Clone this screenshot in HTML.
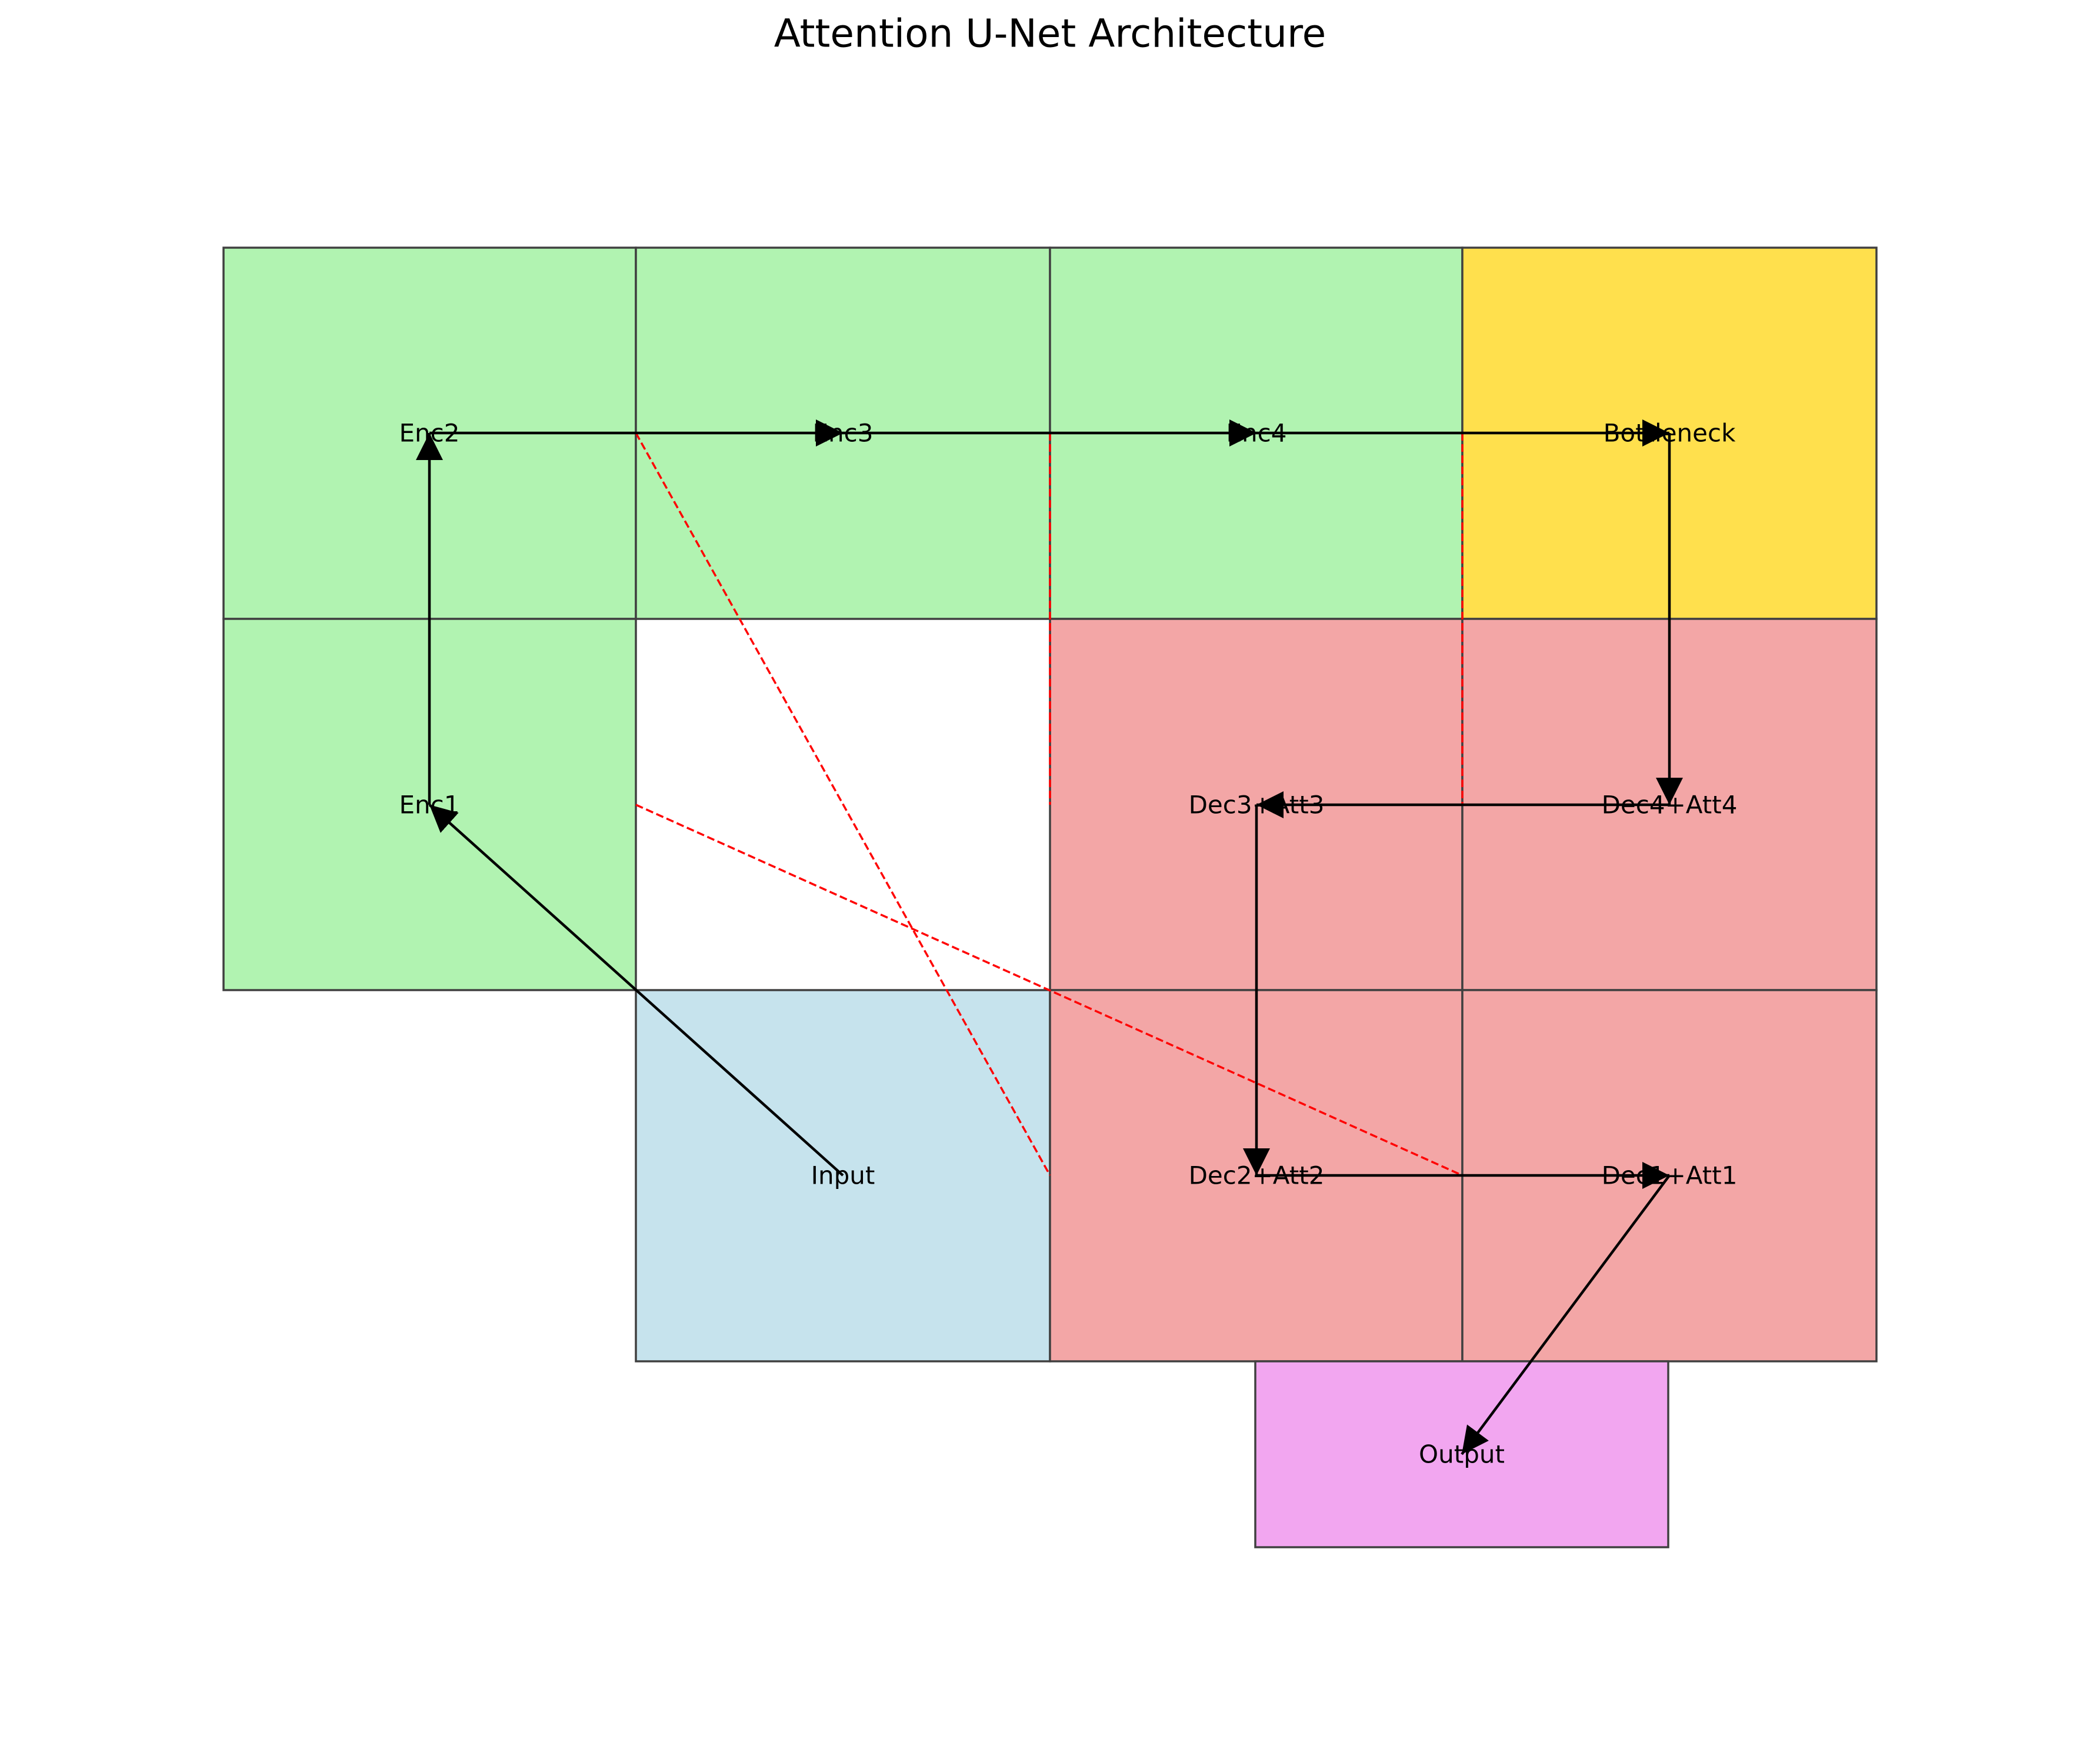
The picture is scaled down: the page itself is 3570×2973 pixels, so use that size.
<!DOCTYPE html>
<html><head><meta charset="utf-8"><style>html,body{margin:0;padding:0;background:#fff}svg{display:block}</style></head>
<body>
<svg width="3570" height="2973" viewBox="0 0 3570 2973" xmlns="http://www.w3.org/2000/svg" font-family="DejaVu Sans, Liberation Sans, sans-serif">
<defs>
<marker id="ah" markerUnits="userSpaceOnUse" markerWidth="46" markerHeight="46" viewBox="0 0 40 40" refX="40" refY="20" orient="auto">
<path d="M0,0 L40,20 L0,40 Z" fill="#000"/>
</marker>
</defs>
<rect width="3570" height="2973" fill="#fff"/>
<text x="1785" y="57" font-size="66" text-anchor="middle" dominant-baseline="central">Attention U-Net Architecture</text>
<g stroke="#404040" stroke-width="3.5">
<rect x="380" y="421" width="701" height="631" fill="#b1f3b1"/>
<rect x="1081" y="421" width="704" height="631" fill="#b1f3b1"/>
<rect x="1785" y="421" width="701" height="631" fill="#b1f3b1"/>
<rect x="2486" y="421" width="704" height="631" fill="#ffe04d"/>
<rect x="380" y="1052" width="701" height="631" fill="#b1f3b1"/>
<rect x="1785" y="1052" width="701" height="631" fill="#f3a6a6"/>
<rect x="2486" y="1052" width="704" height="631" fill="#f3a6a6"/>
<rect x="1081" y="1683" width="704" height="631" fill="#c6e3ed"/>
<rect x="1785" y="1683" width="701" height="631" fill="#f3a6a6"/>
<rect x="2486" y="1683" width="704" height="631" fill="#f3a6a6"/>
<rect x="2134" y="2314" width="702" height="316" fill="#f2a6f0"/>
</g>
<g font-size="42" text-anchor="middle" dominant-baseline="central" fill="#000">
<text x="730" y="736">Enc2</text>
<text x="1433" y="736">Enc3</text>
<text x="2136" y="736">Enc4</text>
<text x="2838" y="736">Bottleneck</text>
<text x="730" y="1368">Enc1</text>
<text x="2136" y="1368">Dec3+Att3</text>
<text x="2838" y="1368">Dec4+Att4</text>
<text x="1433" y="1998">Input</text>
<text x="2136" y="1998">Dec2+Att2</text>
<text x="2838" y="1998">Dec1+Att1</text>
<text x="2485" y="2472">Output</text>
</g>
<g stroke="#f00" stroke-width="3.5" stroke-dasharray="13,6" fill="none">
<line x1="1081" y1="736" x2="1785" y2="1998"/>
<line x1="1785" y1="736" x2="1785" y2="1368"/>
<line x1="2486" y1="736" x2="2486" y2="1368"/>
<line x1="1081" y1="1368" x2="2486" y2="1998"/>
</g>
<g stroke="#000" stroke-width="4.5" fill="none" marker-end="url(#ah)">
<line x1="1433" y1="1998" x2="730" y2="1368"/>
<line x1="730" y1="1368" x2="730" y2="736"/>
<line x1="730" y1="736" x2="1433" y2="736"/>
<line x1="1433" y1="736" x2="2136" y2="736"/>
<line x1="2136" y1="736" x2="2838" y2="736"/>
<line x1="2838" y1="736" x2="2838" y2="1368"/>
<line x1="2838" y1="1368" x2="2136" y2="1368"/>
<line x1="2136" y1="1368" x2="2136" y2="1998"/>
<line x1="2136" y1="1998" x2="2838" y2="1998"/>
<line x1="2838" y1="1998" x2="2485" y2="2472"/>
</g>
</svg>
</body></html>
